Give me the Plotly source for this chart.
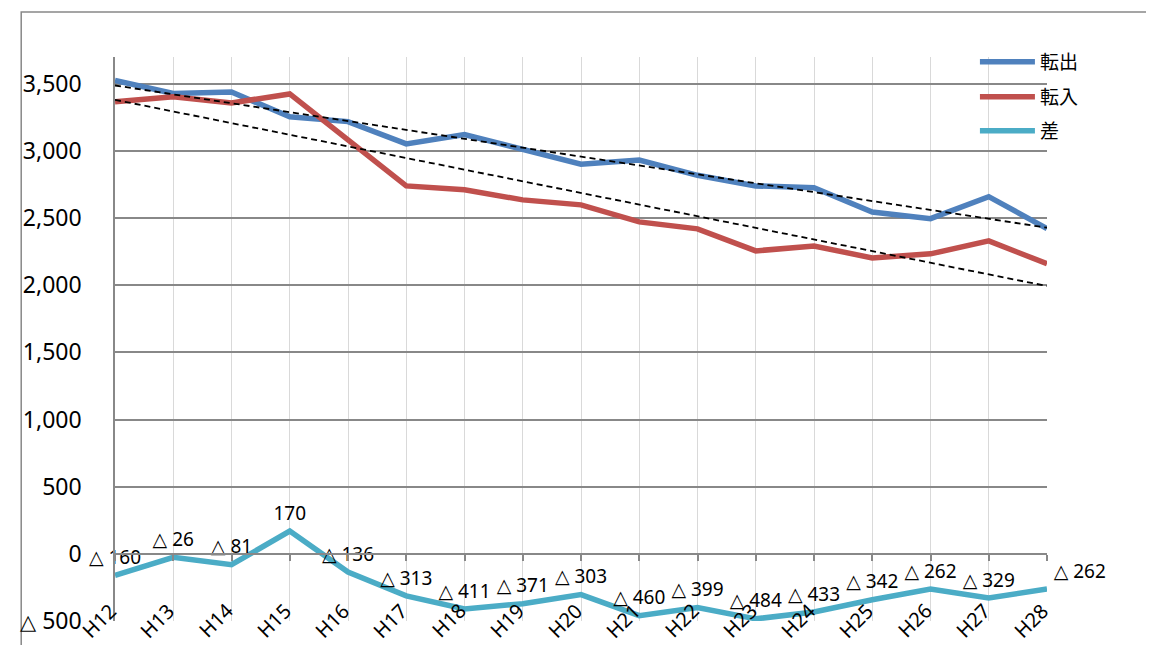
import numpy as np
import plotly.graph_objects as go

categories = ["H12", "H13", "H14", "H15", "H16", "H17", "H18", "H19", "H20",
              "H21", "H22", "H23", "H24", "H25", "H26", "H27", "H28"]
tenshutsu = [3526, 3429, 3439, 3255, 3219, 3053, 3122, 3007, 2902,
             2932, 2819, 2740, 2726, 2546, 2496, 2660, 2422]
tennyu = [3366, 3403, 3358, 3425, 3083, 2740, 2711, 2636, 2599,
          2472, 2420, 2256, 2293, 2204, 2234, 2331, 2160]
sa = [-160, -26, -81, 170, -136, -313, -411, -371, -303,
      -460, -399, -484, -433, -342, -262, -329, -262]
y_tickvals = [-500, 0, 500, 1000, 1500, 2000, 2500, 3000, 3500]
y_ticktext = ["△ 500", "0", "500", "1,000", "1,500", "2,000", "2,500", "3,000", "3,500"]

x = list(range(len(categories)))
FONT = "Noto Sans, DejaVu Sans, Noto Sans CJK JP, sans-serif"
BLUE = "#4F81BD"
RED = "#C0504D"
TEAL = "#4BACC6"
GRID = "#888888"

def tri(v):
    return f"△ {abs(v):,}" if v < 0 else f"{v:,}"

def small_tri(s, size):
    return s.replace("△", f"<span style='font-size:{size}px'>△</span>")

sa_labels = [tri(v) for v in sa]
sa_pos = ["top center"] * (len(sa) - 1) + ["top right"]
y_ticklabels = [small_tri(t, 21) for t in y_ticktext]

fig = go.Figure()
fig.add_trace(go.Scatter(x=x, y=tenshutsu, mode="lines", name="転出",
                         line=dict(color=BLUE, width=5.5), legend="legend"))
fig.add_trace(go.Scatter(x=x, y=tennyu, mode="lines", name="転入",
                         line=dict(color=RED, width=5.5), legend="legend2"))
fig.add_trace(go.Scatter(x=x, y=sa, mode="lines+markers+text", name="差",
                         line=dict(color=TEAL, width=5.5), legend="legend3",
                         marker=dict(size=9, color="rgba(0,0,0,0)"),
                         text=sa_labels, textposition=sa_pos,
                         textfont=dict(family=FONT, size=19, color="#000000"),
                         cliponaxis=False))

# linear trendlines (least squares, as in the original spreadsheet)
for series in (tenshutsu, tennyu):
    k, b = np.polyfit(x, series, 1)
    fig.add_trace(go.Scatter(x=[x[0], x[-1]], y=[k * x[0] + b, k * x[-1] + b],
                             mode="lines", showlegend=False, hoverinfo="skip",
                             line=dict(color="#000000", width=1.8, dash="6px,4px")))

# category labels (rotated, sitting across the bottom edge)
for i, c in enumerate(categories):
    fig.add_annotation(x=i, y=-0.006, xref="x", yref="paper", text=c,
                       textangle=-45, showarrow=False, xshift=-16, yshift=4,
                       xanchor="center", yanchor="middle",
                       font=dict(family=FONT, size=20, color="#000000"))

# page body adds an 8px offset; margins compensate
ML, MT = 95, 49
PW, PH = 944, 564
ymin, ymax = -500, 3700

def legend_at(center_px):
    top_px = center_px - 18
    return dict(x=(974 - 103) / PW, y=1 + (57 - top_px) / PH,
                xanchor="left", yanchor="top", bgcolor="rgba(0,0,0,0)",
                font=dict(family=FONT, size=19, color="#000000"),
                itemwidth=55)

fig.update_layout(
    width=1154, height=645,
    margin=dict(l=ML, r=1154 - ML - PW, t=MT, b=645 - MT - PH),
    paper_bgcolor="white", plot_bgcolor="white",
    font=dict(family=FONT, color="#000000"),
    showlegend=True,
    legend=legend_at(61),
    legend2=legend_at(96),
    legend3=legend_at(130),
    xaxis=dict(range=[0, 16], tickvals=x, showticklabels=False,
               showgrid=True, gridcolor="#d9d9d9", gridwidth=1,
               ticks="outside", ticklen=6, tickcolor=GRID, tickwidth=1.5,
               showline=True, linecolor=GRID, linewidth=1.5,
               zeroline=False, anchor="free",
               position=(0 - ymin) / (ymax - ymin)),
    yaxis=dict(range=[ymin, ymax], tickvals=y_tickvals, ticktext=y_ticklabels,
               showgrid=True, gridcolor=GRID, gridwidth=1.5,
               showline=True, linecolor=GRID, linewidth=1.5,
               zeroline=False, ticks="", ticklabelstandoff=27,
               tickfont=dict(family=FONT, size=23, color="#000000")),
    shapes=[dict(type="rect", xref="paper", yref="paper",
                 x0=(8 - 103) / PW, x1=1.3, y0=-0.2, y1=1 + (57 - 12) / PH,
                 line=dict(color=GRID, width=1.5), fillcolor="rgba(0,0,0,0)",
                 layer="below")],
)

fig.write_html("out.html")
